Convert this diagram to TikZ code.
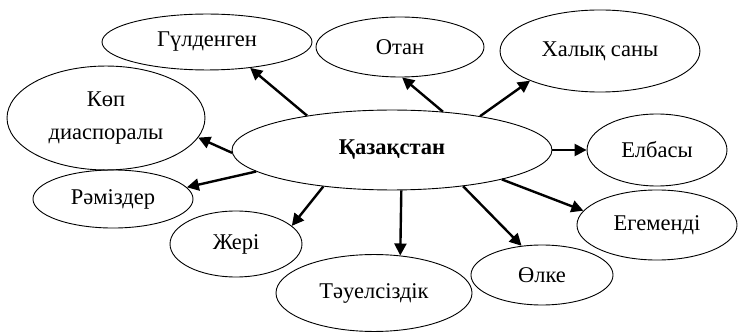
\documentclass[tikz,border=0pt]{standalone}
\usepackage{fontspec}
\setmainfont{Liberation Serif}
\usetikzlibrary{arrows.meta,shapes.geometric}

\tikzset{
  oval/.style={ellipse,draw,line width=0.6pt,inner sep=0pt,font=\fontsize{15pt}{18pt}\selectfont},
  arr/.style={line width=1.6pt,-{Triangle[length=8pt,width=8pt]}}
}

\begin{document}
\begin{tikzpicture}[x=0.6667pt,y=-0.6667pt]
        \useasboundingbox (0,0) rectangle (738,333);
        \node[oval,minimum width=213.3pt,minimum height=53.3pt,font=\fontsize{15pt}{18pt}\selectfont\bfseries](KZ) at (392,150) {Қазақстан};
        \node[oval,minimum width=140pt,minimum height=37.3pt](Gul) at (207,42) {Гүлденген};
        \node[oval,minimum width=112pt,minimum height=40pt](Otan) at (400,47) {Отан};
        \node[oval,minimum width=133.3pt,minimum height=54.7pt](Halyk) at (600,51) {Халық саны};
        \node[oval,minimum width=93.3pt,minimum height=48pt](Elb) at (657,150) {Елбасы};
        \node[oval,minimum width=106.7pt,minimum height=46.7pt](Eg) at (657,225) {Егеменді};
        \node[oval,minimum width=94.7pt,minimum height=40pt](Olke) at (542,275) {Өлке};
        \node[oval,minimum width=130.7pt,minimum height=51.3pt](Tau) at (374,293) {Тәуелсіздік};
        \node[oval,minimum width=88pt,minimum height=44pt](Jer) at (236,244) {Жері};
        \node[oval,minimum width=106.7pt,minimum height=38.7pt](Ram) at (113,199) {Рәміздер};
        \node[oval,minimum width=132pt,minimum height=69.3pt,align=center,font=\fontsize{15pt}{22pt}\selectfont](Kop) at (106,118) {Көп\\диаспоралы};

        \begin{scope}
          \draw
          (KZ.158) edge[arr] (Gul.-31)
          (KZ.37) edge[arr] (Otan.-86)
          (KZ.21) edge[arr] (Halyk.-157)
          (KZ.east) edge[arr] (Elb.west)
          (KZ.-15) edge[arr] (Eg.169)
          (KZ.-27) edge[arr] (Olke.125)
          (KZ.-77) edge[arr] (Tau.55)
          (KZ.-152) edge[arr] (Jer.18)
          (KZ.-171) edge[arr] (Ram.9)
          (KZ.-179) edge[arr] (Kop.-12);
        \end{scope}
      \end{tikzpicture}
\end{document}
